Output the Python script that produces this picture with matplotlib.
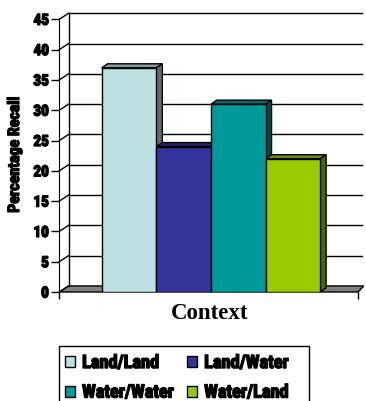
import matplotlib

matplotlib.use('Agg')
import matplotlib.pyplot as plt
import matplotlib.patheffects as pe
from matplotlib.patches import Polygon, Patch, Rectangle
from matplotlib.colors import to_rgb

categories = ['Land/Land', 'Land/Water', 'Water/Water', 'Water/Land']
recall = [37, 24, 31, 22]
colors = ['#BDE0E3', '#333399', '#009999', '#99CC00']
y_ticks = [0, 5, 10, 15, 20, 25, 30, 35, 40, 45]

CONDENSED = ['Roboto Condensed', 'DejaVu Sans']
# thicken the condensed face a little
THICK = [pe.withStroke(linewidth=1.0, foreground='black')]

W, H = 366, 402


def shade(color, k):
    r, g, b = to_rgb(color)
    return (r * k, g * k, b * k)


fig = plt.figure(figsize=(W / 100, H / 100), dpi=100)
# axes: x in bar widths, y in percent
ax = fig.add_axes([59.3 / W, 109 / H, (W - 59.3) / W, 283 / H])
x_left = -1.277
x_right = 4.196
ax.set_xlim(x_left, x_left + (W - 59.3) / 54.6)
ax.set_ylim(0, 283 / 6.06)

# depth of walls and bars (data units)
wdx, wdy = 0.17, 1.0
bdx, bdy = 0.11, 0.66

# floor
ax.add_patch(Polygon([(x_left, 0), (x_left + wdx, wdy), (x_right + wdx * 0.6, wdy),
                      (x_right, 0)], closed=True, facecolor='#808080',
                     edgecolor='black', lw=1, zorder=1, clip_on=False))

# back wall gridlines and left wall
grid_end = x_left + (362 - 59.3) / 54.6
for t in y_ticks:
    if t > 0:
        ax.plot([x_left + wdx, grid_end], [t + wdy, t + wdy], color='black', lw=1,
                zorder=1, clip_on=False)
    ax.plot([x_left, x_left + wdx], [t, t + wdy], color='black', lw=1,
            zorder=1, clip_on=False)
ax.plot([x_left + wdx, x_left + wdx], [wdy, 45 + wdy], color='black', lw=1,
        zorder=1, clip_on=False)

# bars with top and side faces
xs = list(range(len(categories)))
ax.bar(xs, recall, width=1, color=colors, edgecolor='black', lw=1, zorder=3)
for x, v, c in zip(xs, recall, colors):
    ax.add_patch(Polygon([(x - 0.5, v), (x - 0.5 + bdx, v + bdy),
                          (x + 0.5 + bdx, v + bdy), (x + 0.5, v)], closed=True,
                         facecolor=shade(c, 0.7), edgecolor='black', lw=1, zorder=2))
    ax.add_patch(Polygon([(x + 0.5, 0), (x + 0.5, v), (x + 0.5 + bdx, v + bdy),
                          (x + 0.5 + bdx, bdy)], closed=True,
                         facecolor=shade(c, 0.5), edgecolor='black', lw=1, zorder=2))

for side in ['top', 'right', 'bottom']:
    ax.spines[side].set_visible(False)
ax.spines['left'].set_position(('data', x_left))
ax.spines['left'].set_bounds(0, 45)
ax.spines['left'].set_zorder(4)

ax.set_yticks(y_ticks)
ax.set_yticklabels([str(t) for t in y_ticks], family=CONDENSED, fontweight='bold',
                   fontsize=11)
for lbl in ax.get_yticklabels():
    lbl.set_path_effects(THICK)
ax.tick_params(axis='y', length=6, width=1, pad=1.5)
ax.set_xticks([x_left, x_right])
ax.set_xticklabels([])
ax.tick_params(axis='x', length=5, width=1)

ax.set_ylabel('Percentage Recall', family=CONDENSED, fontweight='bold', fontsize=11.5,
              path_effects=[pe.withStroke(linewidth=0.9, foreground='black')])
ax.yaxis.set_label_coords(-0.1216, 0.486)

fig.text(210 / W, 1 - 314 / H, 'Context', ha='center', va='center',
         family='Liberation Serif', fontweight='bold', fontsize=16.5)

# legend box runs off the bottom edge
fig.add_artist(Rectangle((59.3 / W, -0.1), (309 - 59.3) / W, 1.1 - 347.3 / H,
                         transform=fig.transFigure, fill=False, edgecolor='black',
                         lw=1))

# legend fills column by column: reorder so rows read LL, LW / WW, WL
order = [0, 2, 1, 3]
handles = [Patch(facecolor=colors[i], edgecolor='black', lw=1) for i in order]
leg = fig.legend(handles, [categories[i] for i in order], ncol=2, loc='upper left',
                 bbox_to_anchor=(65 / W, 1 - 355 / H), borderaxespad=0,
                 frameon=False, borderpad=0,
                 prop={'family': CONDENSED, 'weight': 'bold', 'size': 13.2},
                 handlelength=0.55, handleheight=0.55, handletextpad=0.38,
                 columnspacing=0.72, labelspacing=0.63)
for t in leg.get_texts():
    t.set_path_effects(THICK)

fig.savefig('out.png', dpi=100)
